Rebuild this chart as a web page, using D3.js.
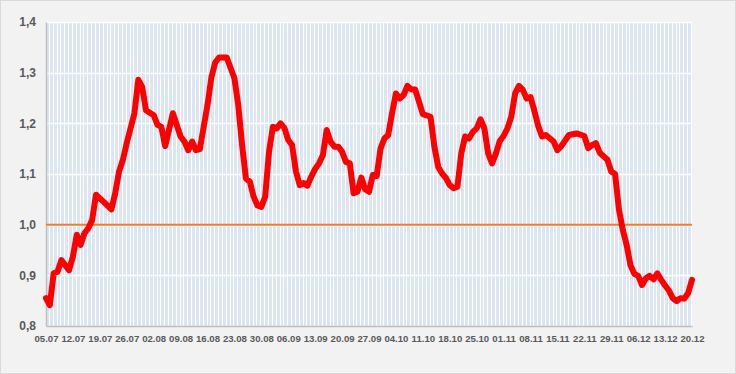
<!DOCTYPE html>
<html>
<head>
<meta charset="utf-8">
<script src="https://cdn.jsdelivr.net/npm/d3@7"></script>
<style>
  body { margin: 0; background: #fff; }
  svg { display: block; font-family: "Liberation Sans", Arial, sans-serif; }
</style>
</head>
<body>
<svg id="chart"></svg>
<script>
// date of the first day of the series, days are counted from here
const startDate = "2020-07-05";
const endDay = 168;

// day offsets (from 05.07) and index values
const dayOffsets = [
  0, 1, 2, 3, 4, 6, 7, 8, 9, 10, 11, 12, 13, 15, 17, 18, 19, 20, 21, 23,
  24, 25, 26, 28, 29, 30, 31, 33, 35, 36, 37, 38, 39, 40, 42, 43, 44, 45, 47, 49,
  50, 51, 52, 53, 54, 55, 56, 57, 58, 59, 60, 61, 62, 63, 64, 65, 66, 67, 68, 69,
  70, 71, 72, 73, 74, 75, 76, 77, 78, 79, 80, 81, 82, 83, 84, 85, 86, 87, 88, 89,
  90, 91, 92, 93, 94, 95, 96, 97, 98, 100, 101, 102, 103, 104, 105, 106, 107, 108, 109, 110,
  111, 112, 113, 114, 115, 116, 117, 118, 119, 120, 121, 122, 123, 124, 125, 126, 127, 128, 129, 130,
  132, 133, 134, 136, 138, 140, 141, 142, 143, 144, 146, 147, 148, 149, 150, 151, 152, 153, 154, 155,
  156, 157, 158, 159, 160, 161, 162, 163, 164, 165, 166, 167, 168
];
const indexValues = [
  0.855, 0.841, 0.904, 0.907, 0.930, 0.910, 0.937, 0.980, 0.960, 0.983, 0.993, 1.009, 1.059, 1.045, 1.030, 1.062, 1.105, 1.128, 1.161, 1.220,
  1.286, 1.272, 1.226, 1.216, 1.197, 1.193, 1.155, 1.220, 1.174, 1.164, 1.147, 1.164, 1.147, 1.149, 1.236, 1.290, 1.320, 1.330, 1.330, 1.289,
  1.236, 1.157, 1.091, 1.085, 1.055, 1.038, 1.035, 1.055, 1.144, 1.193, 1.190, 1.200, 1.191, 1.167, 1.157, 1.105, 1.078, 1.082, 1.077, 1.095,
  1.110, 1.121, 1.137, 1.187, 1.164, 1.154, 1.154, 1.144, 1.124, 1.121, 1.062, 1.065, 1.093, 1.070, 1.065, 1.098, 1.096, 1.150, 1.170, 1.177,
  1.220, 1.259, 1.249, 1.256, 1.274, 1.267, 1.267, 1.243, 1.218, 1.213, 1.154, 1.114, 1.101, 1.092, 1.078, 1.072, 1.075, 1.141, 1.174, 1.170,
  1.183, 1.190, 1.208, 1.190, 1.140, 1.121, 1.140, 1.165, 1.175, 1.190, 1.213, 1.259, 1.274, 1.266, 1.249, 1.252, 1.225, 1.195, 1.174, 1.177,
  1.164, 1.147, 1.155, 1.177, 1.180, 1.175, 1.151, 1.157, 1.161, 1.142, 1.128, 1.105, 1.100, 1.030, 0.990, 0.960, 0.920, 0.903, 0.899, 0.881,
  0.894, 0.899, 0.892, 0.904, 0.891, 0.880, 0.870, 0.855, 0.849, 0.855, 0.854, 0.865, 0.891
];

const xTickLabels = [
  "05.07", "12.07", "19.07", "26.07", "02.08", "09.08", "16.08", "23.08", "30.08",
  "06.09", "13.09", "20.09", "27.09", "04.10", "11.10", "18.10", "25.10", "01.11",
  "08.11", "15.11", "22.11", "29.11", "06.12", "13.12", "20.12"
];
const yTicks = [0.8, 0.9, 1.0, 1.1, 1.2, 1.3, 1.4];
const baseLine = 1.0;

const width = 736, height = 374;
const margin = { top: 22, right: 44, bottom: 48, left: 46 };
const innerWidth = width - margin.left - margin.right;
const innerHeight = height - margin.top - margin.bottom;

const svg = d3.select('#chart')
  .attr('width', width)
  .attr('height', height);

svg.append('rect')
  .attr('x', 0.5).attr('y', 0.5)
  .attr('width', width - 1).attr('height', height - 1)
  .attr('fill', '#f2f2f2')
  .attr('stroke', '#d9d9d9');

const t0 = d3.isoParse(startDate);
const dayToDate = d => d3.utcDay.offset(t0, d);

const xScale = d3.scaleUtc()
  .domain([t0, dayToDate(endDay)])
  .range([0, innerWidth]);

const yScale = d3.scaleLinear()
  .domain([0.8, 1.4])
  .range([innerHeight, 0]);

const viewPort = svg.append('g')
  .attr('transform', `translate(${margin.left}, ${margin.top})`);

viewPort.append('rect')
  .attr('width', innerWidth)
  .attr('height', innerHeight)
  .attr('fill', '#fff');

// light blue daily columns behind the line
const days = d3.utcDay.range(t0, dayToDate(endDay));
viewPort.append('g')
  .selectAll('rect')
  .data(days).enter()
  .append('rect')
  .attr('x', d => Math.round(xScale(d)))
  .attr('y', 0)
  .attr('width', d => Math.max(1, Math.round(xScale(d3.utcDay.offset(d, 1))) - Math.round(xScale(d)) - 1))
  .attr('height', innerHeight)
  .attr('fill', '#dce6f2')
  .attr('shape-rendering', 'crispEdges');

// white horizontal gridlines
viewPort.append('g')
  .selectAll('line')
  .data(yTicks.slice(1))
  .enter().append('line')
  .attr('x1', 0).attr('x2', innerWidth)
  .attr('y1', d => Math.round(yScale(d)) + 0.5)
  .attr('y2', d => Math.round(yScale(d)) + 0.5)
  .attr('stroke', '#fff')
  .attr('stroke-width', 1.5);

const fmtDay = d3.utcFormat('%d.%m');
const xTickDates = xTickLabels.map((s, i) => dayToDate(i * 7));

const xAxis = d3.axisBottom()
  .scale(xScale)
  .tickValues(xTickDates)
  .tickSize(0)
  .tickPadding(9)
  .tickFormat((d, i) => xTickLabels[i]);

const yAxis = d3.axisLeft()
  .scale(yScale)
  .tickValues(yTicks)
  .tickSize(0)
  .tickPadding(10)
  .tickFormat(d => d3.format('.1f')(d).replace('.', ','));

const xAxisG = viewPort.append('g')
  .attr('transform', `translate(0, ${innerHeight})`)
  .call(xAxis);

const yAxisG = viewPort.append('g')
  .call(yAxis);

[xAxisG, yAxisG].forEach(g => {
  g.select('.domain').attr('stroke', '#bfbfbf').attr('stroke-width', 1.5);
  g.selectAll('text')
    .attr('fill', '#595959')
    .attr('font-weight', 'bold')
    .attr('font-family', '"Liberation Sans", Arial, sans-serif');
});
xAxisG.selectAll('text').attr('font-size', 9.6);
yAxisG.selectAll('text').attr('font-size', 12);

// orange reference line at 1,0
viewPort.append('line')
  .attr('x1', 0).attr('x2', innerWidth)
  .attr('y1', yScale(baseLine)).attr('y2', yScale(baseLine))
  .attr('stroke', '#ed7d31')
  .attr('stroke-width', 2);

const data = dayOffsets.map((d, i) => ({ date: dayToDate(d), value: indexValues[i] }));

const line = d3.line()
  .x(d => xScale(d.date))
  .y(d => yScale(d.value));

viewPort.append('path')
  .datum(data)
  .attr('d', line)
  .attr('fill', 'none')
  .attr('stroke', '#ff0000')
  .attr('stroke-width', 6)
  .attr('stroke-linejoin', 'round')
  .attr('stroke-linecap', 'round');
</script>
</body>
</html>
